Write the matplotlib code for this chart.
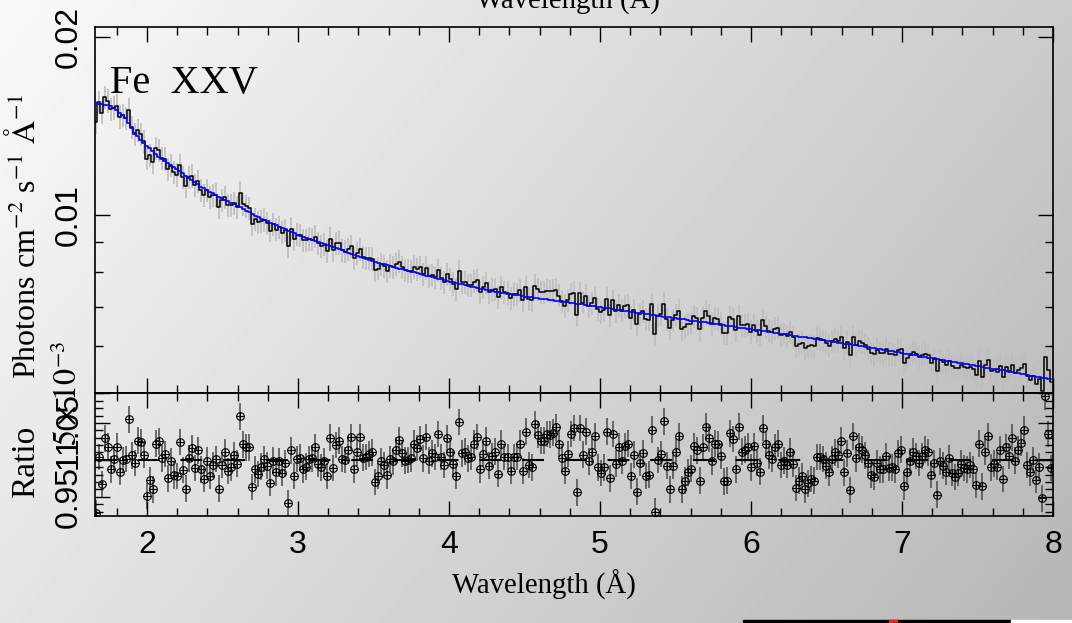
import numpy as np
import matplotlib.pyplot as plt
from matplotlib.ticker import MultipleLocator, NullFormatter, LogLocator
from matplotlib.patches import Rectangle

plt.rcParams['font.family'] = 'Liberation Sans'
plt.rcParams['mathtext.fontset'] = 'stix'

W, H = 1072, 623

# 0.02 A bins, first and last bin centre
wl_first, wl_last = 1.66, 7.99

# model (blue) per bin, units of 1e-3 photons cm^-2 s^-1 A^-1
model = [
    15.48, 15.44, 15.41, 15.37, 15.33, 15.30, 15.17, 15.04, 14.90, 14.77,
    14.57, 14.29, 14.01, 13.76, 13.58, 13.40, 13.24, 13.10, 12.96, 12.82,
    12.68, 12.55, 12.45, 12.35, 12.25, 12.15, 12.06, 11.96, 11.86, 11.76,
    11.66, 11.57, 11.47, 11.37, 11.27, 11.17, 11.10, 11.03, 10.95, 10.88,
    10.81, 10.74, 10.68, 10.61, 10.55, 10.49, 10.42, 10.36, 10.30, 10.23,
    10.17, 10.11, 10.04, 9.98, 9.92, 9.86, 9.81, 9.76, 9.71, 9.66,
    9.61, 9.56, 9.51, 9.46, 9.41, 9.36, 9.31, 9.26, 9.22, 9.18,
    9.15, 9.11, 9.07, 9.04, 9.00, 8.96, 8.93, 8.89, 8.86, 8.82,
    8.78, 8.75, 8.71, 8.67, 8.64, 8.60, 8.57, 8.53, 8.49, 8.46,
    8.42, 8.38, 8.35, 8.32, 8.30, 8.27, 8.25, 8.22, 8.20, 8.17,
    8.15, 8.12, 8.10, 8.07, 8.05, 8.02, 8.00, 7.97, 7.95, 7.92,
    7.90, 7.88, 7.85, 7.83, 7.80, 7.78, 7.75, 7.73, 7.71, 7.69,
    7.67, 7.65, 7.63, 7.61, 7.59, 7.57, 7.55, 7.53, 7.51, 7.49,
    7.48, 7.46, 7.44, 7.42, 7.40, 7.38, 7.37, 7.36, 7.34, 7.33,
    7.32, 7.31, 7.30, 7.28, 7.27, 7.26, 7.25, 7.24, 7.22, 7.21,
    7.20, 7.19, 7.18, 7.16, 7.15, 7.14, 7.13, 7.12, 7.10, 7.09,
    7.08, 7.07, 7.06, 7.04, 7.03, 7.02, 7.01, 7.00, 6.98, 6.97,
    6.96, 6.95, 6.94, 6.92, 6.91, 6.90, 6.89, 6.88, 6.86, 6.85,
    6.84, 6.83, 6.82, 6.81, 6.79, 6.78, 6.77, 6.76, 6.75, 6.73,
    6.72, 6.71, 6.70, 6.69, 6.68, 6.67, 6.66, 6.65, 6.63, 6.62,
    6.61, 6.60, 6.59, 6.58, 6.57, 6.56, 6.54, 6.53, 6.52, 6.51,
    6.50, 6.49, 6.48, 6.47, 6.45, 6.44, 6.43, 6.42, 6.41, 6.40,
    6.39, 6.38, 6.37, 6.36, 6.34, 6.33, 6.32, 6.31, 6.30, 6.29,
    6.28, 6.26, 6.25, 6.24, 6.23, 6.22, 6.21, 6.20, 6.19, 6.17,
    6.16, 6.15, 6.14, 6.13, 6.12, 6.11, 6.10, 6.08, 6.07, 6.06,
    6.05, 6.05, 6.03, 6.02, 6.01, 6.00, 5.99, 5.97, 5.96, 5.95,
    5.94, 5.93, 5.91, 5.90, 5.89, 5.88, 5.87, 5.86, 5.85, 5.83,
    5.82, 5.81, 5.80, 5.79, 5.78, 5.76, 5.75, 5.74, 5.73, 5.72,
    5.71, 5.69, 5.68, 5.67, 5.66, 5.65, 5.64, 5.62, 5.61, 5.60,
    5.59, 5.58, 5.57, 5.56, 5.55, 5.53, 5.52, 5.51, 5.50, 5.49,
    5.48, 5.47, 5.46, 5.44, 5.43, 5.42, 5.41, 5.40, 5.39, 5.38,
    5.37, 5.35, 5.34, 5.33, 5.32, 5.31, 5.30, 5.29, 5.28,
]

# data / model per bin
ratio = [
    0.928, 1.004, 0.967, 1.029, 1.018, 0.987, 1.001, 1.018, 0.984, 1.000,
    1.001, 1.055, 1.006, 0.996, 1.026, 1.024, 1.007, 0.951, 0.973, 0.960,
    1.022, 1.025, 1.002, 1.008, 0.975, 0.998, 0.979, 0.978, 1.024, 0.986,
    0.961, 1.002, 1.016, 0.989, 1.013, 0.987, 0.974, 0.999, 0.978, 0.993,
    1.001, 0.961, 0.993, 1.010, 0.985, 0.990, 1.006, 0.995, 1.059, 1.021,
    1.017, 1.017, 0.963, 0.987,
    0.981, 0.991, 1.001, 0.992, 0.969, 0.999, 0.983, 0.998, 0.982, 0.996,
    0.941, 1.013, 0.978, 1.001, 1.003, 0.987, 0.991, 1.001, 1.002, 1.017,
    0.995, 0.990, 0.998, 0.978, 1.030, 0.989, 1.020, 1.026, 1.001, 1.000,
    1.014, 1.031, 0.987, 1.010, 1.031, 1.003, 1.004, 1.008, 1.010, 0.970,
    0.978, 0.998, 0.993, 0.979, 1.001, 0.998, 1.013, 1.027, 1.009, 0.999,
    1.000, 1.002, 1.022,
    1.016,
    1.028, 1.002, 1.031, 0.999, 1.009, 1.004, 1.035, 1.004, 0.993, 1.029,
    1.011, 0.995, 0.978, 1.051, 1.009, 1.011, 1.002, 1.004, 1.022, 1.031,
    0.987, 1.008, 1.026, 0.992, 1.005, 1.011, 0.981, 1.022, 1.004, 1.004,
    0.985, 1.004, 1.004, 1.022, 0.985, 1.038, 0.993, 0.990, 1.048, 1.034,
    1.026, 1.026, 1.035, 1.034, 1.037, 1.044, 1.022, 1.002, 0.985, 1.008,
    1.035, 1.043,
    0.956,
    1.043, 1.007, 1.038, 0.998, 1.011, 1.032, 0.990, 0.982, 0.990, 1.038,
    0.975, 1.035, 0.995, 1.018, 0.999, 1.019, 1.022, 0.978, 1.007, 0.957,
    0.996, 1.009, 0.978, 0.980, 1.041, 0.930, 1.000, 1.008, 1.052, 0.992,
    0.960, 0.992, 1.011, 1.032, 0.960, 0.972, 0.983, 0.988, 1.019, 1.013,
    0.972, 1.017, 1.045, 1.029, 0.998, 1.022, 1.021, 1.005, 0.971, 0.972,
    1.036, 1.028, 0.987,
    1.045,
    1.011, 1.014, 1.018, 0.990, 1.019, 0.996, 0.984, 1.043, 1.021, 1.006,
    1.001, 1.017, 1.022, 0.993, 0.999, 0.993, 1.011, 0.995, 0.962, 0.972,
    0.978, 0.960, 0.968, 0.974, 0.972, 1.004, 1.004, 1.001, 0.992, 0.983,
    1.001, 1.010, 1.007, 1.026, 0.983, 1.009, 0.959, 1.032, 1.002, 1.018,
    1.014, 1.006, 0.996, 0.980, 0.977, 0.996, 0.987, 0.987, 1.005, 0.989,
    0.990, 0.987,
    1.009,
    1.014, 0.964, 0.984, 0.998, 1.011, 1.005, 0.996, 1.005, 1.014, 1.010,
    0.980, 0.996, 0.953, 0.998, 0.992, 0.984, 1.002, 0.982, 0.977, 0.982,
    0.995, 0.989, 0.987, 0.993, 0.987, 0.966, 1.022, 0.964, 1.011, 1.032,
    0.990, 0.995, 0.991, 1.014, 0.974, 1.017, 1.005, 1.030, 0.999, 1.014,
    1.023, 1.041, 0.993, 0.983, 1.000, 0.973, 0.991, 0.948, 1.086, 1.035,
    0.989,
]
ratio_err = 0.018
flux_err_frac = 0.045

wl = np.linspace(wl_first, wl_last, len(ratio))
model_flux = np.array(model) * 1e-3
ratio = np.array(ratio)
flux = model_flux * ratio

fig = plt.figure(figsize=(W / 100, H / 100), dpi=100)

# grey diagonal background
bg = fig.add_axes([0, 0, 1, 1], zorder=-10)
xx, yy = np.meshgrid(np.arange(W), np.arange(H))
shade = (250 - 0.044 * xx - 0.034 * yy) / 255
bg.imshow(shade, cmap='gray', vmin=0, vmax=1, aspect='auto', extent=[0, W, H, 0])
bg.axis('off')


def px(l, t, r, b):
    return [l / W, 1 - b / H, (r - l) / W, (b - t) / H]


ax = fig.add_axes(px(95, 27, 1053, 393))
axr = fig.add_axes(px(95, 393, 1053, 516), sharex=ax)

# spectrum
ax.errorbar(wl, flux, yerr=flux * flux_err_frac, fmt='none', ecolor='#bdbdbd', elinewidth=1.2, zorder=1)
ax.step(wl, flux, where='mid', color='k', lw=1.1, zorder=2)
ax.step(wl, model_flux, where='mid', color='#0000ff', lw=1.2, zorder=3)
ax.set_yscale('log')
ax.set_xlim(1.655, 8.0)
ax.set_ylim(0.005, 0.0208)
ax.set_yticks([0.005, 0.01, 0.02], [r'$5\times10^{-3}$', '0.01', '0.02'])
ax.yaxis.set_minor_locator(LogLocator(subs=np.arange(2, 10)))
ax.yaxis.set_minor_formatter(NullFormatter())

# residuals
axr.errorbar(wl, ratio, yerr=ratio_err, fmt='none', ecolor='#4a4a4a', elinewidth=1.1, zorder=1)
axr.axhline(1, color='k', lw=1.5, dashes=(10.5, 10), zorder=2)
axr.plot(wl, ratio, 'o', ms=5.5, mfc='none', mec='k', mew=0.8, zorder=3)
axr.plot(wl, ratio, '+', ms=5.5, color='k', mew=0.8, zorder=3)
axr.set_ylim(0.924, 1.0905)
axr.set_yticks([0.95, 1, 1.05], ['0.95', '1', '1.05'])
axr.yaxis.set_minor_locator(MultipleLocator(0.01))

for a in (ax, axr):
    a.set_facecolor('none')
    a.xaxis.set_major_locator(MultipleLocator(1))
    a.xaxis.set_minor_locator(MultipleLocator(0.2))
    a.tick_params(which='both', direction='in', top=True, right=True, width=1)
    a.tick_params(which='major', length=11)
    a.tick_params(which='minor', length=5.5)
    a.tick_params(axis='y', labelsize=23, labelrotation=90, pad=8)
    for lab in a.get_yticklabels():
        lab.set_va('center')
    for s in a.spines.values():
        s.set_linewidth(1.2)

ax.tick_params(labelbottom=False)
axr.tick_params(axis='x', labelsize=23, pad=10)

serif = 'Liberation Serif'
fig.text(110 / W, 1 - 93 / H, 'Fe  XXV', fontsize=29, family=serif, va='baseline')
fig.text(25 / W, 1 - 236 / H, r'Photons cm$^{-2}$ s$^{-1}$ $\mathrm{\AA}^{-1}$',
         rotation=90, ha='center', va='center', fontsize=23, family=serif)
fig.text(26 / W, 1 - 462 / H, 'Ratio', rotation=90, ha='center', va='center', fontsize=24, family=serif)
fig.text(544 / W, 1 - 585 / H, 'Wavelength (Å)', ha='center', va='center', fontsize=20.7, family=serif)
fig.text(568 / W, 1 - 9 / H, 'Wavelength (Å)', ha='center', va='baseline', fontsize=20.7, family=serif)

# strip at the bottom edge
fig.add_artist(Rectangle((743 / W, 0), (1011 - 743) / W, 3 / H, transform=fig.transFigure, color='k'))
fig.add_artist(Rectangle((1011 / W, 0), 61 / W, 3 / H, transform=fig.transFigure, color='w'))
fig.add_artist(Rectangle((889 / W, 0), 8 / W, 3 / H, transform=fig.transFigure, color='#e02020'))

fig.savefig('out.png', dpi=100)
